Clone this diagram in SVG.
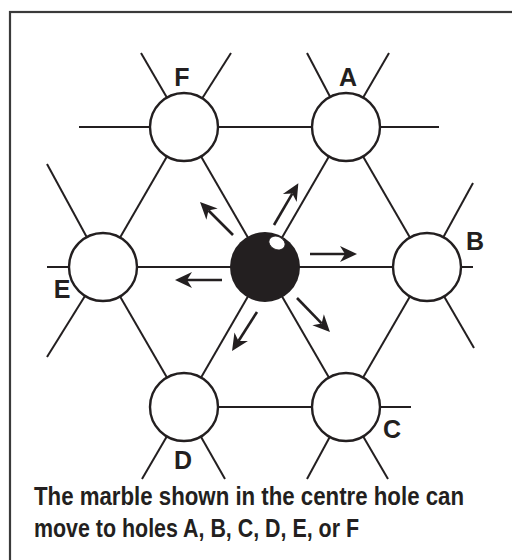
<svg xmlns="http://www.w3.org/2000/svg" width="512" height="560" viewBox="0 0 512 560">
<style>
.frame{fill:none;stroke:#3a3a3a;stroke-width:2.2}
.ln{stroke:#231f20;stroke-width:2;fill:none}
.hole{fill:#fff;stroke:#231f20;stroke-width:2.4}
.arr{stroke:#231f20;stroke-width:2.6;fill:none;marker-end:url(#ah)}
.lbl{font-family:"Liberation Sans",Arial,sans-serif;font-weight:bold;font-size:25px;fill:#231f20;text-anchor:middle}
.cap{font-family:"Liberation Sans",Arial,sans-serif;font-weight:bold;font-size:25px;fill:#231f20}
</style>
<defs>
<marker id="ah" markerUnits="userSpaceOnUse" markerWidth="40" markerHeight="40" refX="0" refY="0" orient="auto" overflow="visible">
<path d="M12,0 L-5,-8 L0,0 L-5,8 Z" fill="#231f20"/>
</marker>
</defs>
<rect class="frame" x="10" y="12" width="520" height="570"/>
<g id="connectors">
<line class="ln" x1="79" y1="127" x2="439" y2="127"/>
<line class="ln" x1="47" y1="267" x2="473" y2="267"/>
<line class="ln" x1="184" y1="407" x2="411" y2="407"/>
<line class="ln" x1="103" y1="267" x2="47" y2="357"/>
<line class="ln" x1="103" y1="267" x2="184" y2="127"/>
<line class="ln" x1="184" y1="127" x2="231" y2="53"/>
<line class="ln" x1="184" y1="407" x2="142" y2="479"/>
<line class="ln" x1="184" y1="407" x2="265" y2="267"/>
<line class="ln" x1="265" y1="267" x2="346" y2="127"/>
<line class="ln" x1="346" y1="127" x2="389" y2="53"/>
<line class="ln" x1="346" y1="407" x2="307" y2="479"/>
<line class="ln" x1="346" y1="407" x2="427" y2="267"/>
<line class="ln" x1="427" y1="267" x2="473" y2="183"/>
<line class="ln" x1="184" y1="127" x2="141" y2="53"/>
<line class="ln" x1="184" y1="127" x2="265" y2="267"/>
<line class="ln" x1="265" y1="267" x2="346" y2="407"/>
<line class="ln" x1="346" y1="407" x2="388" y2="479"/>
<line class="ln" x1="346" y1="127" x2="307" y2="53"/>
<line class="ln" x1="346" y1="127" x2="427" y2="267"/>
<line class="ln" x1="427" y1="267" x2="474" y2="348"/>
<line class="ln" x1="103" y1="267" x2="47" y2="164"/>
<line class="ln" x1="103" y1="267" x2="184" y2="407"/>
<line class="ln" x1="184" y1="407" x2="225" y2="479"/>
</g>
<g id="arrows">
<line class="arr" x1="274" y1="225" x2="292.3" y2="193.6"/>
<line class="arr" x1="233" y1="235" x2="208.5" y2="210.5"/>
<line class="arr" x1="310" y1="254" x2="345" y2="254"/>
<line class="arr" x1="222" y1="280" x2="187" y2="280"/>
<line class="arr" x1="297" y1="298" x2="321.6" y2="323.4"/>
<line class="arr" x1="257" y1="312" x2="238.5" y2="341"/>
</g>
<g id="node-F"><circle class="hole" cx="184" cy="127" r="34"/><text class="lbl" x="182" y="86">F</text></g>
<g id="node-A"><circle class="hole" cx="346" cy="127" r="34"/><text class="lbl" x="348" y="86">A</text></g>
<g id="node-E"><circle class="hole" cx="103" cy="267" r="34"/><text class="lbl" x="62" y="298">E</text></g>
<g id="node-B"><circle class="hole" cx="427" cy="267" r="34"/><text class="lbl" x="475" y="250">B</text></g>
<g id="node-D"><circle class="hole" cx="184" cy="407" r="34"/><text class="lbl" x="183" y="469">D</text></g>
<g id="node-C"><circle class="hole" cx="346" cy="407" r="34"/><text class="lbl" x="392" y="438">C</text></g>
<g id="marble">
<circle cx="265" cy="267" r="35" fill="#231f20"/>
<ellipse cx="277" cy="243" rx="8.5" ry="6.5" transform="rotate(25 277 243)" fill="#fff" stroke="#231f20" stroke-width="1"/>
</g>
<g id="caption">
<text class="cap" x="34" y="505" textLength="430" lengthAdjust="spacingAndGlyphs">The marble shown in the centre hole can</text>
<text class="cap" x="34" y="537" textLength="325" lengthAdjust="spacingAndGlyphs">move to holes A, B, C, D, E, or F</text>
</g>
</svg>
